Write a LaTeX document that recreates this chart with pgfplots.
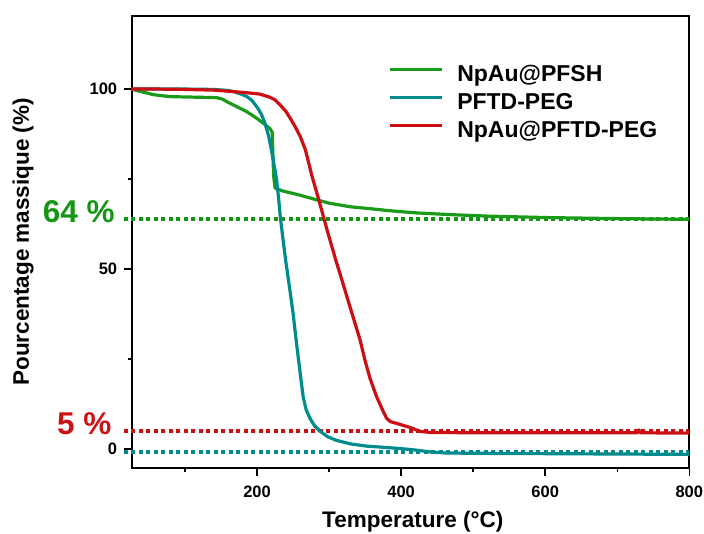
\documentclass[border=0pt]{standalone}
\usepackage{pgfplots}
\pgfplotsset{compat=1.18}
\usepackage{fontspec}
\setmainfont{Liberation Sans}
\definecolor{cgreen}{RGB}{25,155,25}
\definecolor{cteal}{RGB}{0,140,140}
\definecolor{cred}{RGB}{205,15,20}
\definecolor{tgreen}{RGB}{20,150,20}
\definecolor{tred}{RGB}{200,20,20}
\begin{document}
\begin{tikzpicture}
\path[use as bounding box] (-131.7pt,-66.3pt) rectangle (572.3pt,467.7pt);
\begin{axis}[
 at={(0,0)}, anchor=south west,
 scale only axis, width=557.6pt, height=451.7pt,
 xmin=26, xmax=800, ymin=-5.2, ymax=120.3,
 clip=false,
 axis line style={line width=2pt, black},
 tick pos=left, tick align=outside,
 xtick={200,400,600,800}, minor xtick={100,300,500,700},
 ytick={0,50,100}, minor ytick={25,75},
 major tick length=8pt, minor tick length=4pt,
 every tick/.append style={black, line width=1.5pt},
 /pgf/number format/assume math mode=true,
 ticklabel style={font=\fontsize{16.5}{19}\selectfont\bfseries},
 xticklabel style={yshift=-7pt},
 yticklabel style={xshift=-3pt},
 xlabel={Temperature (°C)}, ylabel={Pourcentage massique (\%)},
 label style={font=\fontsize{22.5}{27}\selectfont\bfseries},
 xlabel style={at={(axis description cs:0.504,-0.1335)}, anchor=base},
 ylabel style={at={(axis description cs:-0.1842,0.5)}, anchor=base},
 legend style={at={(axis description cs:0.4614,0.8923)}, anchor=north west,
   draw=none, fill=none, inner sep=0pt, outer sep=0pt,
   font=\fontsize{23}{27}\selectfont\bfseries, row sep=5pt,
   nodes={inner sep=0pt, text height=17pt, text depth=6pt},
   /tikz/every odd column/.append style={column sep=13.3pt}},
 legend cell align=left,
 legend image code/.code={\draw[#1, line width=3pt] (0pt,7pt) -- (52pt,7pt);},
]
% dotted reference lines
\addplot[forget plot, tgreen, line width=3.8pt, dash pattern=on 4pt off 3.5pt] coordinates {(15,64.0) (800,64.0)};
\addplot[forget plot, cred, line width=3.8pt, dash pattern=on 4pt off 3.5pt] coordinates {(15,5.0) (800,5.0)};
\addplot[forget plot, cteal, line width=3.8pt, dash pattern=on 4pt off 3.5pt] coordinates {(15,-0.9) (800,-0.9)};

\addplot[cgreen, line width=3.2pt, line join=round] coordinates {
(26,100) (35,99.5) (45,99.0) (55,98.5) (65,98.2) (80,97.9) (100,97.8) (125,97.7) (144,97.6) (152,97.2) (158,96.5) (170,95.3) (185,93.8) (199.5,91.9) (210,90.3) (218,89.0) (221,88.0) (222,82) (223,76) (225,72.5) (235,71.7) (250,71.0) (260,70.5) (283,69.2) (300,68.3) (329,67.3) (360,66.7) (384,66.2) (420,65.6) (470,65.1) (520,64.7) (600,64.3) (700,64.0) (800,63.8)};
\addlegendentry{NpAu@PFSH}

\addplot[cteal, line width=3.2pt, line join=round] coordinates {
(26,100) (100,100) (140,99.9) (160,99.6) (167,99.3) (178,98.6) (186,97.9) (193,96.8) (200,95.0) (206,93.0) (211,90.5) (216,87.0) (220,83.0) (224,78.5) (227,75.0) (230,69.5) (232,65) (236.5,57.5) (240,52) (245,45) (250,37.7) (255,29) (259.6,21.5) (264,14.5) (268,11) (273.5,8.5) (280,6.4) (287,5.0) (298,3.4) (310,2.4) (330,1.4) (352,0.8) (380,0.4) (400,0.1) (420,-0.3) (440,-0.8) (460,-1.1) (500,-1.2) (600,-1.3) (700,-1.4) (800,-1.5)};
\addlegendentry{PFTD-PEG}

\addplot[cred, line width=3.2pt, line join=round] coordinates {
(26,100) (60,100) (100,99.9) (140,99.7) (167,99.3) (190,98.9) (204,98.6) (218,97.7) (225,97.0) (232,95.6) (240,93.8) (246,91.9) (253,89.5) (260,86.8) (267,83.2) (276,76) (286,69) (297,61) (310,52) (315,48.8) (329,39.5) (343,30.3) (350,24.5) (357,19.5) (366,14.5) (375,10.5) (380,8.5) (385,7.6) (394,7.1) (412,6.0) (426,4.9) (440,4.6) (500,4.5) (600,4.5) (728,4.5) (730,5.3) (732,4.5) (800,4.4)};
\addlegendentry{NpAu@PFTD-PEG}

\node[anchor=base east, text=tgreen, font=\fontsize{31.5}{36}\selectfont\bfseries] at (axis cs:7.4,62.8) {64 \%};
\node[anchor=base east, text=tred, font=\fontsize{31.5}{36}\selectfont\bfseries] at (axis cs:2.8,3.9) {5 \%};
\end{axis}
\end{tikzpicture}
\end{document}
